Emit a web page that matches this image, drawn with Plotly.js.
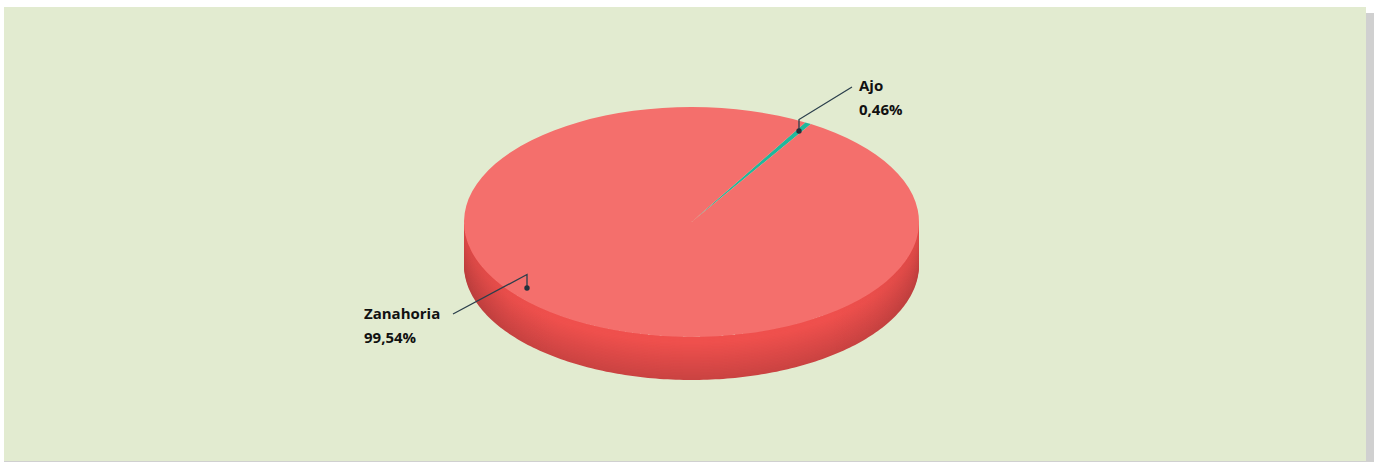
<!DOCTYPE html>
<html><head><meta charset="utf-8">
<script src="https://cdn.plot.ly/plotly-3.0.1.min.js"></script>
<style>html,body{margin:0;padding:0;background:#fff}#c{width:1379px;height:462px}</style>
</head><body><div id="c"></div>
<script>
const categories = ['Ajo', 'Zanahoria'];
const shares = [0.46, 99.54];
const sliceColors = ['#1fb89c', '#f46f6c'];
const labelFont = {family: '"Open Sans", sans-serif', size: 15, color: '#111111', weight: 700};

const W = 1379, H = 462;
const cx = 691.5, cy = 222, rx = 227.5, ry = 115, depth = 43;

// side wall of the disc: front half of the ellipse, extruded downward
function wall(dep) {
  const xs = [], ys = [];
  for (let d = 0; d <= 180; d += 1) {
    const a = d * Math.PI / 180;
    xs.push(cx + rx * Math.cos(a)); ys.push(cy + ry * Math.sin(a));
  }
  for (let d = 180; d >= 0; d -= 1) {
    const a = d * Math.PI / 180;
    xs.push(cx + rx * Math.cos(a)); ys.push(cy + dep + ry * Math.sin(a));
  }
  return {xs: xs, ys: ys};
}
// nested bands give a shading that follows the curved lower edge
function shade(t) {
  const k = Math.min(1, Math.max(0, (t - 0.15) / 0.85));
  const r = Math.round(239 + (202 - 239) * k), g = Math.round(80 + (67 - 80) * k), b = Math.round(77 + (66 - 77) * k);
  return 'rgb(' + r + ',' + g + ',' + b + ')';
}
const traces = [];
for (let dep = depth; dep > 0; dep -= 1.5) {
  const w = wall(dep);
  traces.push({type: 'scatter', mode: 'none', x: w.xs, y: w.ys, fill: 'toself', hoverinfo: 'skip', showlegend: false,
               fillcolor: shade(dep / depth)});
}
const full = wall(depth);
traces.push({type: 'scatter', mode: 'none', x: full.xs, y: full.ys, fill: 'toself', hoverinfo: 'skip', showlegend: false,
   fillgradient: {type: 'horizontal', colorscale: [[0, 'rgba(120,40,40,0.2)'], [0.1, 'rgba(120,40,40,0.05)'], [0.2, 'rgba(120,40,40,0)'], [0.8, 'rgba(120,40,40,0)'], [0.9, 'rgba(120,40,40,0.05)'], [1, 'rgba(120,40,40,0.16)']]}});
traces.push({type: 'pie', labels: categories, values: shares, sort: false, direction: 'clockwise', rotation: 30,
   textinfo: 'none', showlegend: false, marker: {colors: sliceColors, line: {width: 0}},
   domain: {x: [(cx - rx) / W, (cx + rx) / W], y: [(H / 2 - rx) / H, (H / 2 + rx) / H]}});

function pct(v) { return v.toFixed(2).replace('.', ',') + '%'; }
function txt(t, x, y) {
  return {text: '<b>' + t + '</b>', x: x, y: y, xref: 'x', yref: 'y', xanchor: 'left', yanchor: 'middle',
          showarrow: false, font: labelFont, xshift: 0};
}
function leader(path) {
  return {type: 'path', path: path, xref: 'x', yref: 'y', layer: 'above', line: {color: '#2b3f4c', width: 1.3}};
}
function dot(x, y) {
  return {type: 'circle', xref: 'x', yref: 'y', x0: x - 2.7, x1: x + 2.7, y0: y - 2.7, y1: y + 2.7, layer: 'above',
          fillcolor: '#22313c', line: {width: 0}};
}
const layout = {
  width: W, height: H, margin: {l: 0, r: 0, t: 0, b: 0}, paper_bgcolor: '#ffffff', plot_bgcolor: 'rgba(0,0,0,0)',
  showlegend: false, hovermode: false,
  xaxis: {range: [0, W], visible: false, fixedrange: true},
  yaxis: {range: [H, 0], visible: false, fixedrange: true},
  shapes: [
    {type: 'rect', xref: 'x', yref: 'y', x0: 1366, x1: 1374, y0: 13, y1: 462, layer: 'below', fillcolor: '#d0d0d0', line: {width: 0}},
    {type: 'rect', xref: 'x', yref: 'y', x0: 4, x1: 1374, y0: 461, y1: 462, layer: 'below', fillcolor: '#d0d0d0', line: {width: 0}},
    {type: 'rect', xref: 'x', yref: 'y', x0: 4, x1: 1366, y0: 7, y1: 461, layer: 'below', fillcolor: '#e2ebd0', line: {width: 0}},
    leader('M799,131 L799,119.5 L852,87'),
    leader('M527,288 L527,274.5 L453,314'),
    dot(799, 131), dot(527, 288)
  ],
  annotations: [
    txt(categories[0], 857, 85), txt(pct(shares[0]), 857, 109),
    txt(categories[1], 362, 313), txt(pct(shares[1]), 362, 337)
  ]
};
Plotly.newPlot('c', traces, layout, {displayModeBar: false, staticPlot: true}).then(function () {
  // tilt the pie into the flattened perspective of the disc top
  const g = document.querySelector('#c .pielayer');
  g.setAttribute('transform', 'translate(' + cx + ',' + cy + ') scale(1,' + (ry / rx) + ') translate(' + (-cx) + ',' + (-H / 2) + ')');
});
</script></body></html>
